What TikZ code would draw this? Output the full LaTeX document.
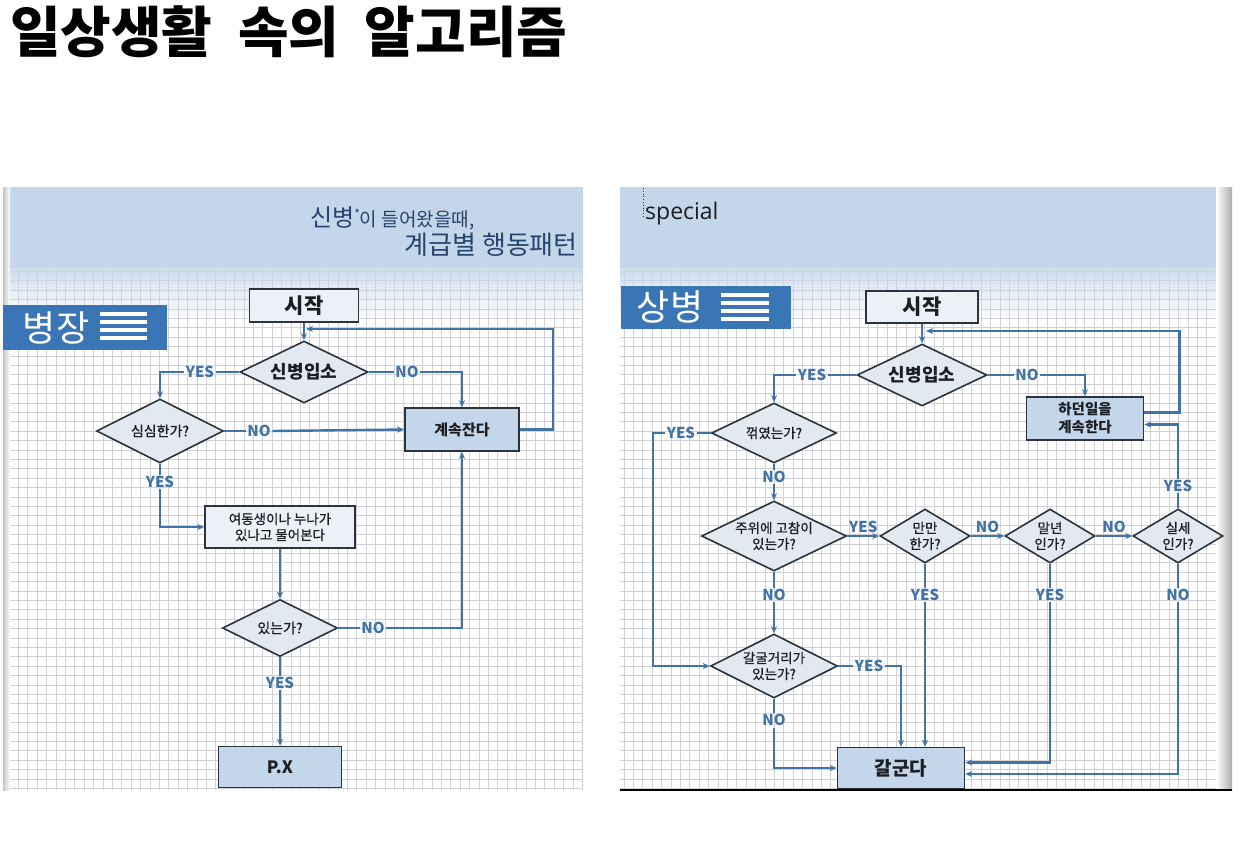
\documentclass[tikz,border=0pt]{standalone}
\usepackage{fontspec}
\newfontfamily\kr{Noto Sans CJK KR}
\newfontfamily\krm[FakeBold=0.7]{Noto Sans CJK KR}
\newfontfamily\os{Open Sans}
\usetikzlibrary{arrows.meta,shapes.geometric}
\definecolor{bluebg}{RGB}{196,215,234}
\definecolor{gridc}{RGB}{208,210,215}
\definecolor{linec}{RGB}{66,115,165}
\definecolor{edgec}{RGB}{45,50,60}
\definecolor{diafill}{RGB}{226,233,241}
\definecolor{startfill}{RGB}{236,241,247}
\definecolor{boxfill}{RGB}{196,214,234}
\definecolor{badge}{RGB}{58,118,182}
\definecolor{headc}{RGB}{38,68,108}
\definecolor{txt}{RGB}{28,30,36}
\tikzset{
  fbox/.style={draw=edgec, line width=1.6pt, fill=startfill, inner sep=0pt, text=txt, align=center},
  bbox/.style={fbox, fill=boxfill},
  dia/.style={diamond, draw=edgec, line width=1.6pt, fill=diafill, inner sep=0pt},
  dtext/.style={font=\krm\fontsize{13.5}{16}\selectfont, text=txt, align=center, inner sep=0pt},
  btext/.style={font=\kr\bfseries\fontsize{18}{20}\selectfont, text=txt, align=center, inner sep=0pt},
  lbl/.style={font=\kr\bfseries\fontsize{15}{15}\selectfont, text=linec, inner sep=1.5pt},
  ln/.style={draw=linec, line width=2.4pt},
  arr/.style={draw=linec, line width=2.4pt, -{Stealth[length=7pt,width=6pt]}},
  bdg/.style={font=\kr\fontsize{36}{36}\selectfont, text=white, inner sep=0pt},
  gl/.style={draw=gridc, line width=0.7pt}
}
\begin{document}
\begin{tikzpicture}[x=1pt,y=-1pt]
\useasboundingbox (0,0) rectangle (1251,860);
\fill[white] (0,0) rectangle (1251,860);

% Title
\node[anchor=west, font=\kr\bfseries\fontsize{55}{55}\selectfont, inner sep=0pt] (title) at (10,32) {일상생활 \hspace{13pt}속의 \hspace{13pt}알고리즘};

% ---------------- Left panel background ----------------
\fill[white] (5,187) rectangle (583,790);
\foreach \x in {9,18.4,...,583} { \draw[gl] (\x,258) -- (\x,790); }
\foreach \y in {262,271.4,...,790} { \draw[gl] (5,\y) -- (583,\y); }
\fill[bluebg] (5,187) rectangle (583,268);
\foreach \a/\yy in {0.8/268,0.65/276,0.5/284,0.38/292,0.26/300,0.15/308} {
  \fill[bluebg, opacity=\a] (5,\yy) rectangle (583,\yy+8);
}
\shade[left color=gray!45, right color=white] (3,187) rectangle (10,790);

% header text
\node[anchor=base west, inner sep=0pt, text=headc] (hd1) at (310,226)
  {\kr\fontsize{24}{24}\selectfont 신병\raisebox{8pt}{\fontsize{12}{12}\selectfont *}\fontsize{19}{19}\selectfont 이 들어왔을때,};
\node[anchor=base east, inner sep=0pt, text=headc] (hd2) at (578,254)
  {\kr\fontsize{26}{26}\selectfont 계급별 행동패턴};

% badge
\fill[badge] (3,305) rectangle (167,350);
\node[bdg] (bdgL) at (56,328) {병장};
\foreach \yy in {312,320,328,336} { \fill[white] (100,\yy) rectangle (147,\yy+4); }

% ---------------- Left flowchart ----------------
\node[fbox, minimum width=109pt, minimum height=33pt, font=\kr\bfseries\fontsize{21}{21}\selectfont] (sL) at (304,305.5) {시작};
\node[dia, minimum width=128pt, minimum height=62pt, label={[btext]center:신병입소}] (aL) at (304,372) {};
\node[dia, minimum width=127pt, minimum height=64pt, label={[dtext, font=\krm\fontsize{14}{16}\selectfont]center:심심한가?}] (bL) at (160,431) {};
\node[bbox, minimum width=114pt, minimum height=43pt, font=\kr\bfseries\fontsize{15}{16}\selectfont] (cL) at (462,429.5) {계속잔다};
\node[fbox, minimum width=150pt, minimum height=42pt, font=\krm\fontsize{13.5}{16}\selectfont] (eL) at (280,527) {여동생이나 누나가\\있나고 물어본다};
\node[dia, minimum width=115pt, minimum height=57pt, label={[dtext, font=\krm\fontsize{14}{16}\selectfont]center:있는가?}] (fL) at (280,628) {};
\node[bbox, minimum width=123pt, minimum height=41pt, font=\kr\bfseries\fontsize{17}{17}\selectfont] (gL) at (280,767) {P.X};

\node[lbl] (yL1) at (200,372) {YES};
\node[lbl] (nL1) at (407,372) {NO};
\node[lbl] (nL2) at (259,431) {NO};
\node[lbl] (yL2) at (160,482) {YES};
\node[lbl] (nL3) at (373,628) {NO};
\node[lbl] (yL3) at (280,683) {YES};
\coordinate (jL) at (306,329);

\draw[arr] (sL.south) -- (aL.north);
\draw[ln] (aL.west) -- (yL1.east);
\draw[arr] (yL1.west) -| (bL.north);
\draw[ln] (aL.east) -- (nL1.west);
\draw[arr] (nL1.east) -| (cL.north);
\draw[ln] (bL.east) -- (nL2.west);
\draw[arr] (nL2.east) -- (cL.west);
\draw[arr] (cL.east) -- ++(33,0) |- (jL);
\draw[ln] (bL.south) -- (yL2.north);
\draw[arr] (yL2.south) |- (eL.west);
\draw[arr] (eL.south) -- (fL.north);
\draw[ln] (fL.east) -- (nL3.west);
\draw[arr] (nL3.east) -| (cL.south);
\draw[ln] (fL.south) -- (yL3.north);
\draw[arr] (yL3.south) -- (gL.north);

% ---------------- Right panel background ----------------
\fill[white] (620,187) rectangle (1232,790);
\foreach \x in {624,633.4,...,1232} { \draw[gl] (\x,258) -- (\x,790); }
\foreach \y in {262,271.4,...,790} { \draw[gl] (620,\y) -- (1232,\y); }
\fill[bluebg] (620,187) rectangle (1232,268);
\foreach \a/\yy in {0.8/268,0.65/276,0.5/284,0.38/292,0.26/300,0.15/308} {
  \fill[bluebg, opacity=\a] (620,\yy) rectangle (1232,\yy+8);
}
\shade[left color=white, right color=gray!65] (1216,187) rectangle (1232,790);
\draw[black, line width=1.2pt] (620,790) -- (1232,790);
\draw[edgec, line width=0.8pt, dotted] (643,188) -- (643,218);
\node[anchor=base west, inner sep=0pt, text=txt, font=\os\fontsize{23}{23}\selectfont] (spec) at (645,219) {special};

% badge
\fill[badge] (621,286) rectangle (791,329);
\node[bdg] (bdgR) at (670,307) {상병};
\foreach \yy in {293,301,309,317} { \fill[white] (721,\yy) rectangle (769,\yy+4); }

% ---------------- Right flowchart ----------------
\node[fbox, minimum width=112pt, minimum height=32pt, font=\kr\bfseries\fontsize{21}{21}\selectfont] (sR) at (922,307) {시작};
\node[dia, minimum width=130pt, minimum height=62pt, label={[btext]center:신병입소}] (aR) at (922,375) {};
\node[bbox, minimum width=117pt, minimum height=43pt, font=\kr\bfseries\fontsize{14.5}{18}\selectfont] (cR) at (1085,418.5) {하던일을\\계속한다};
\node[dia, minimum width=125pt, minimum height=60pt, label={[dtext]center:꺾였는가?}] (bR) at (774,433) {};
\node[dia, minimum width=145pt, minimum height=70pt, label={[dtext]center:주위에 고참이\\있는가?}] (dR) at (774,536) {};
\node[dia, minimum width=90pt, minimum height=54pt, label={[dtext]center:만만\\한가?}] (eR) at (925,536) {};
\node[dia, minimum width=90pt, minimum height=54pt, label={[dtext]center:말년\\인가?}] (fR) at (1050,536) {};
\node[dia, minimum width=90pt, minimum height=54pt, label={[dtext]center:실세\\인가?}] (hR) at (1178,536) {};
\node[dia, minimum width=127pt, minimum height=64pt, label={[dtext]center:갈굴거리가\\있는가?}] (gR) at (774,666) {};
\node[bbox, minimum width=127pt, minimum height=41pt, font=\kr\bfseries\fontsize{19}{19}\selectfont] (kR) at (901,768) {갈군다};

\node[lbl] (yR1) at (812,375) {YES};
\node[lbl] (nR1) at (1027,375) {NO};
\node[lbl] (yR2) at (681,433) {YES};
\node[lbl] (nR2) at (774,477) {NO};
\node[lbl] (yR4) at (1178,486) {YES};
\node[lbl] (nR3) at (774,595) {NO};
\node[lbl] (yR6) at (925,595) {YES};
\node[lbl] (yR7) at (1050,595) {YES};
\node[lbl] (nR4) at (1178,595) {NO};
\node[lbl] (yR5) at (869,666) {YES};
\node[lbl] (nR5) at (774,720) {NO};
\coordinate (jR) at (926,331);

\draw[arr] (sR.south) -- (aR.north);
\draw[ln] (aR.west) -- (yR1.east);
\draw[arr] (yR1.west) -| (bR.north);
\draw[ln] (aR.east) -- (nR1.west);
\draw[arr] (nR1.east) -| (cR.north);
\draw[arr] ([yshift=6pt]cR.east) -- ++(35,0) |- (jR);
\draw[ln] (hR.north) -- (yR4.south);
\draw[arr] (yR4.north) |- ([yshift=-6pt]cR.east);
\draw[ln] (bR.west) -- (yR2.east);
\draw[arr] (yR2.west) -- ++(-12,0) |- (gR.west);
\draw[ln] (bR.south) -- (nR2.north);
\draw[arr] (nR2.south) -- (dR.north);
\draw[arr] (dR.east) -- node[lbl, above=1pt] (yR3) {YES} (eR.west);
\draw[arr] (eR.east) -- node[lbl, above=1pt] (nR6) {NO} (fR.west);
\draw[arr] (fR.east) -- node[lbl, above=1pt] (nR7) {NO} (hR.west);
\draw[ln] (dR.south) -- (nR3.north);
\draw[arr] (nR3.south) -- (gR.north);
\draw[ln] (eR.south) -- (yR6.north);
\draw[arr] (yR6.south) -- (yR6.south |- kR.north);
\draw[ln] (fR.south) -- (yR7.north);
\draw[arr] (yR7.south) |- ([yshift=5.5pt]kR.east);
\draw[ln] (hR.south) -- (nR4.north);
\draw[arr] (nR4.south) |- ([yshift=-6pt]kR.east);
\draw[ln] (gR.east) -- (yR5.west);
\draw[arr] (yR5.east) -| (kR.north);
\draw[ln] (gR.south) -- (nR5.north);
\draw[arr] (nR5.south) |- (kR.west);
\end{tikzpicture}
\end{document}
